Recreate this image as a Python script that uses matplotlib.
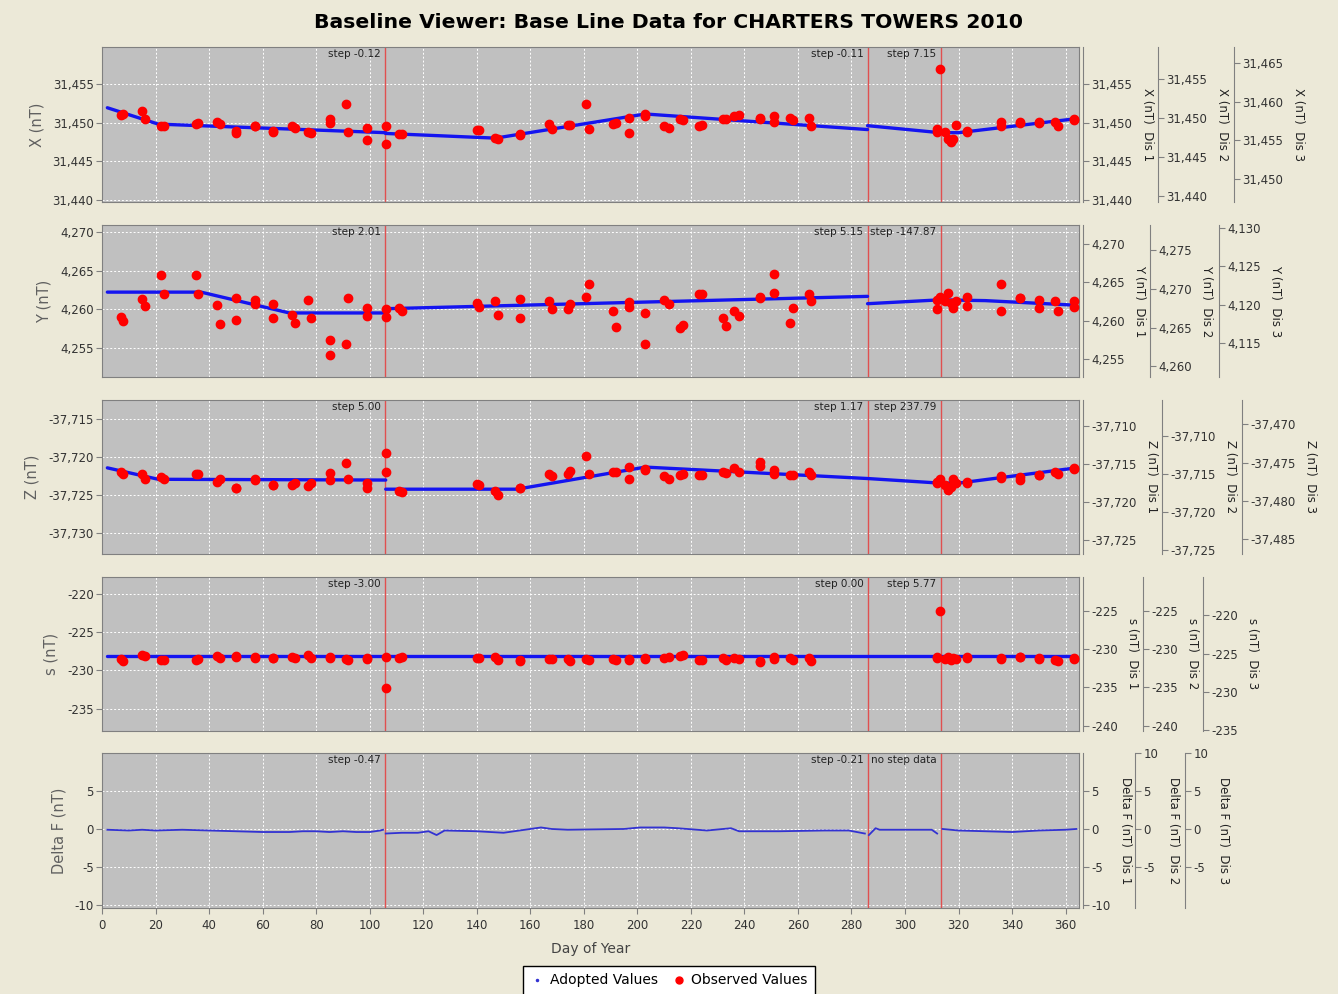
import numpy as np
import matplotlib
matplotlib.use("Agg")
import matplotlib.pyplot as plt
import matplotlib.transforms as mtransforms
from matplotlib.lines import Line2D
from matplotlib.ticker import FuncFormatter, FixedLocator

plt.rcParams["font.family"] = ["DejaVu Sans"]

# observation days (shared by the four component panels)
obs_day = [7, 8, 15, 16, 22, 23, 35, 36, 43, 44, 50, 50, 57, 57, 64, 64, 71, 72, 77, 78,
           85, 85, 91, 92, 99, 99, 106, 106, 111, 112, 140, 141, 147, 148, 156, 156,
           167, 168, 174, 175, 181, 182, 191, 192, 197, 197, 203, 203, 210, 212, 216, 217,
           223, 224, 232, 233, 236, 238, 246, 246, 251, 251, 257, 258, 264, 265,
           312, 312, 313, 315, 316, 317, 318, 319, 323, 323, 336, 336, 343, 343,
           350, 350, 356, 357, 363, 363]

obs_x = [31451.0, 31451.1, 31451.5, 31450.5, 31449.5, 31449.6, 31449.8, 31450.0, 31450.1, 31449.8,
         31448.7, 31448.9, 31449.5, 31449.5, 31448.8, 31448.9, 31449.5, 31449.3, 31448.8, 31448.7,
         31450.4, 31450.0, 31452.4, 31448.8, 31449.3, 31447.8, 31449.5, 31447.2, 31448.5, 31448.5,
         31449.1, 31449.0, 31448.0, 31447.9, 31448.5, 31448.4, 31449.8, 31449.2, 31449.7, 31449.7,
         31452.4, 31449.2, 31449.8, 31449.9, 31450.6, 31448.7, 31451.1, 31450.9, 31449.5, 31449.3,
         31450.4, 31450.3, 31449.6, 31449.7, 31450.4, 31450.5, 31450.8, 31451.0, 31450.6, 31450.5,
         31450.9, 31450.1, 31450.6, 31450.3, 31450.6, 31449.5,
         31449.2, 31448.8, 31456.9, 31448.8, 31447.9, 31447.5, 31447.9, 31449.7, 31448.8, 31448.9,
         31450.1, 31449.6, 31450.1, 31450.0, 31450.1, 31450.0, 31450.1, 31449.5, 31450.4, 31450.3]

obs_y = [4259.0, 4258.5, 4261.35, 4260.4, 4264.4, 4262.0, 4264.4, 4262.0, 4260.5, 4258.1,
         4261.5, 4258.6, 4261.2, 4260.7, 4260.6, 4258.9, 4259.3, 4258.2, 4261.2, 4258.8,
         4256.0, 4254.0, 4255.5, 4261.4, 4260.1, 4259.05, 4260.0, 4259.0, 4260.2, 4259.7,
         4260.8, 4260.3, 4261.0, 4259.3, 4261.35, 4258.9, 4261.1, 4260.0, 4260.0, 4260.6,
         4261.6, 4263.2, 4259.7, 4257.7, 4260.9, 4260.3, 4259.5, 4255.5, 4261.2, 4260.6,
         4257.6, 4257.9, 4261.9, 4261.9, 4258.8, 4257.75, 4259.7, 4259.05, 4261.5, 4261.6,
         4264.5, 4262.1, 4258.2, 4260.1, 4261.9, 4261.0,
         4261.2, 4260.05, 4261.6, 4261.1, 4262.1, 4260.8, 4260.2, 4261.0, 4261.55, 4260.45,
         4263.2, 4259.7, 4261.5, 4261.5, 4261.2, 4260.2, 4261.0, 4259.7, 4261.0, 4260.3]

obs_z = [-37722.0, -37722.2, -37722.2, -37722.8, -37722.6, -37722.8, -37722.2, -37722.2, -37723.3, -37722.8,
         -37724.1, -37724.0, -37723.0, -37722.9, -37723.7, -37723.6, -37723.6, -37723.4, -37723.8, -37723.4,
         -37722.1, -37723.0, -37720.8, -37722.8, -37723.4, -37724.1, -37719.5, -37722.0, -37724.5, -37724.6,
         -37723.5, -37723.7, -37724.4, -37725.0, -37724.1, -37724.0, -37722.2, -37722.5, -37722.2, -37721.8,
         -37719.9, -37722.2, -37722.0, -37721.9, -37721.3, -37722.9, -37721.7, -37721.5, -37722.5, -37722.8,
         -37722.4, -37722.2, -37722.4, -37722.3, -37722.0, -37722.1, -37721.4, -37722.0, -37721.2, -37720.6,
         -37721.7, -37722.2, -37722.3, -37722.3, -37721.9, -37722.3,
         -37723.3, -37723.4, -37722.8, -37723.7, -37724.3, -37723.9, -37722.9, -37723.4, -37723.4, -37723.3,
         -37722.5, -37722.7, -37722.6, -37723.0, -37722.4, -37722.4, -37722.0, -37722.2, -37721.4, -37721.6]

obs_s = [-228.5, -228.7, -228.0, -228.1, -228.6, -228.6, -228.6, -228.5, -228.1, -228.4,
         -228.1, -228.2, -228.2, -228.4, -228.4, -228.4, -228.2, -228.4, -228.0, -228.4,
         -228.2, -228.4, -228.5, -228.6, -228.4, -228.5, -228.3, -232.3, -228.4, -228.3,
         -228.4, -228.4, -228.3, -228.6, -228.6, -228.7, -228.5, -228.5, -228.5, -228.8,
         -228.5, -228.6, -228.5, -228.6, -228.6, -228.5, -228.4, -228.5, -228.4, -228.2,
         -228.1, -228.0, -228.6, -228.6, -228.4, -228.6, -228.4, -228.5, -228.7, -228.9,
         -228.2, -228.5, -228.4, -228.6, -228.4, -228.8,
         -228.2, -228.4, -222.3, -228.5, -228.2, -228.6, -228.4, -228.5, -228.3, -228.4,
         -228.4, -228.5, -228.3, -228.3, -228.4, -228.5, -228.6, -228.8, -228.4, -228.5]

# adopted baselines (nan = break at a step)
adopt_x_day = [2, 21, 106, np.nan, 106, 147, 203, 286, np.nan, 286, 313, 320, 364]
adopt_x = [31451.9, 31449.8, 31448.7, np.nan, 31448.6, 31448.0, 31451.1, 31449.1, np.nan,
           31449.6, 31448.7, 31448.7, 31450.5]
adopt_y_day = [2, 37, 70, 106, np.nan, 106, 286, np.nan, 286, 313, 330, 364]
adopt_y = [4262.2, 4262.2, 4259.5, 4259.5, np.nan, 4260.05, 4261.65, np.nan,
           4260.7, 4261.2, 4261.1, 4260.5]
adopt_z_day = [2, 21, 106, np.nan, 106, 155, 203, 286, 313, 320, 364]
adopt_z = [-37721.4, -37722.9, -37723.0, np.nan, -37724.2, -37724.2, -37721.3, -37722.8,
           -37723.4, -37723.4, -37721.4]
adopt_s_day = [2, 364]
adopt_s = [-228.1, -228.1]

# delta F curve
df_day = [2, 10, 15, 20, 30, 40, 50, 60, 70, 75, 80, 85, 90, 95, 100, 104, 105, np.nan,
          106, 112, 118, 122, 125, 128, 140, 150, 160, 164, 168, 174, 195, 201, 210, 215,
          226, 235, 238, 253, 270, 279, 285, np.nan,
          286.5, 289, 290.5, 300, 310, 312, np.nan,
          314, 320, 330, 340, 350, 360, 364]
df_val = [-0.1, -0.2, -0.1, -0.2, -0.1, -0.2, -0.3, -0.4, -0.4, -0.3, -0.3, -0.4, -0.3, -0.4,
          -0.4, -0.2, -0.1, np.nan,
          -0.6, -0.5, -0.5, -0.3, -0.8, -0.2, -0.3, -0.5, 0.0, 0.2, 0.0, -0.1, 0.0, 0.2, 0.2, 0.1,
          -0.2, 0.1, -0.3, -0.3, -0.2, -0.2, -0.6, np.nan,
          -0.8, 0.1, -0.1, -0.1, -0.1, -0.6, np.nan,
          0.0, -0.2, -0.3, -0.4, -0.2, -0.1, 0.0]

step_days = [105.7, 286, 313.3]
step_text = [["step -0.12", "step -0.11", "step 7.15"],
             ["step 2.01", "step 5.15", "step -147.87"],
             ["step 5.00", "step 1.17", "step 237.79"],
             ["step -3.00", "step 0.00", "step 5.77"],
             ["step -0.47", "step -0.21", "no step data"]]

names = ["X (nT)", "Y (nT)", "Z (nT)", "s (nT)", "Delta F (nT)"]
left_ticks = [[31440, 31445, 31450, 31455], [4255, 4260, 4265, 4270],
              [-37730, -37725, -37720, -37715], [-235, -230, -225, -220], [-10, -5, 0, 5]]
ylims = [(31439.8, 31459.7), (4251.2, 4270.9), (-37732.7, -37712.5),
         (-237.9, -217.8), (-10.4, 10.0)]
# secondary scales (Dis 1, 2, 3) relative to the main axis
dis_offset = [[0, -0.55, 7.3], [1.5, 7.4, -140.55], [5.9, 7.2, 245.7],
              [-2.8, -2.8, 2.8], [0, 0, 0]]
dis_ticks = [[[31440, 31445, 31450, 31455], [31440, 31445, 31450, 31455], [31450, 31455, 31460, 31465]],
             [[4255, 4260, 4265, 4270], [4260, 4265, 4270, 4275], [4115, 4120, 4125, 4130]],
             [[-37725, -37720, -37715, -37710], [-37725, -37720, -37715, -37710],
              [-37485, -37480, -37475, -37470]],
             [[-240, -235, -230, -225], [-240, -235, -230, -225], [-235, -230, -225, -220]],
             [[-10, -5, 0, 5], [-5, 0, 5, 10], [-5, 0, 5, 10]]]
dis_pos_px = [[4, 79, 155], [4, 71, 140], [4, 83, 163], [4, 64, 124], [4, 56, 106]]

panel_px = [(47, 202), (225, 377), (400, 554), (577, 731), (753, 908)]

W, H = 1338, 994
BG = "#ECE9D8"
fig = plt.figure(figsize=(W / 100, H / 100), dpi=100, facecolor=BG)
fmt = FuncFormatter(lambda v, p: f"{v:,.0f}")

obs_vals = [obs_x, obs_y, obs_z, obs_s]
adopt = [(adopt_x_day, adopt_x), (adopt_y_day, adopt_y), (adopt_z_day, adopt_z),
         (adopt_s_day, adopt_s)]

left, right = 102, 1079
axes = []
for i in range(5):
    top, bot = panel_px[i]
    ax = fig.add_axes([left / W, 1 - bot / H, (right - left) / W, (bot - top) / H])
    axes.append(ax)
    ax.set_facecolor("#C0C0C0")
    ax.set_xlim(0, 365)
    ax.set_ylim(*ylims[i])
    ax.set_xticks(np.arange(0, 361, 20))
    ax.yaxis.set_major_locator(FixedLocator(left_ticks[i]))
    ax.yaxis.set_major_formatter(fmt)
    ax.grid(True, color="white", linestyle=(0, (2, 2)), linewidth=0.7)
    ax.set_axisbelow(True)
    for sp in ax.spines.values():
        sp.set_color("#808080")
    ax.tick_params(axis="both", colors="#808080", labelcolor="#333333", labelsize=8.5,
                   length=4, pad=2)
    ax.set_ylabel(names[i], fontsize=10.5, color="#606060", labelpad=6)
    if i < 4:
        ax.tick_params(axis="x", length=0, labelbottom=False)
        d, v = adopt[i]
        ax.plot(d, v, color="#1414F0", linewidth=2.4, solid_capstyle="round", zorder=3)
        ax.plot(obs_day, obs_vals[i], linestyle="none", marker="o", markersize=6,
                color="#FF0000", zorder=4)
    else:
        ax.plot(df_day, df_val, color="#3232D2", linewidth=1.3, zorder=3)
        ax.tick_params(axis="x", pad=4)
        ax.set_xlabel("Day of Year", fontsize=10, color="#444444", labelpad=7)

    trans = mtransforms.blended_transform_factory(ax.transData, ax.transAxes)
    for d, t in zip(step_days, step_text[i]):
        ax.axvline(d, color="#E05050", linewidth=1, zorder=2)
        ax.text(d - 1.6, 0.985, t, transform=trans, ha="right", va="top",
                fontsize=7.5, color="#222222", zorder=5)

    for k in range(3):
        tw = ax.twinx()
        off = dis_offset[i][k]
        tw.set_ylim(ylims[i][0] + off, ylims[i][1] + off)
        for s in ["top", "left", "bottom"]:
            tw.spines[s].set_visible(False)
        tw.spines["right"].set_position(("outward", dis_pos_px[i][k] * 0.72))
        tw.spines["right"].set_color("#808080")
        tw.yaxis.set_major_locator(FixedLocator(dis_ticks[i][k]))
        tw.yaxis.set_major_formatter(fmt)
        tw.tick_params(axis="y", colors="#808080", labelcolor="#333333", labelsize=8.5,
                       length=4, pad=2)
        tw.set_ylabel(f"{names[i]}  Dis {k + 1}", rotation=-90, va="bottom",
                      fontsize=8.5, color="#222222", labelpad=6)

fig.suptitle("Baseline Viewer: Base Line Data for CHARTERS TOWERS 2010",
             y=1 - 22 / H, va="center", fontsize=14.7, fontweight="bold", color="black")

handles = [Line2D([], [], linestyle="none", marker=".", markersize=3, color="#3232D2"),
           Line2D([], [], linestyle="none", marker="o", markersize=5, color="#FF0000")]
leg = fig.legend(handles, ["Adopted Values", "Observed Values"], loc="lower center",
                 bbox_to_anchor=(0.5, -0.008), ncol=2, frameon=True, fancybox=False,
                 edgecolor="black", framealpha=1, fontsize=10, handlelength=1,
                 handletextpad=0.4, columnspacing=1.0, borderpad=0.55)
leg.get_frame().set_linewidth(1)

fig.savefig("out.png", dpi=100, facecolor=BG)
